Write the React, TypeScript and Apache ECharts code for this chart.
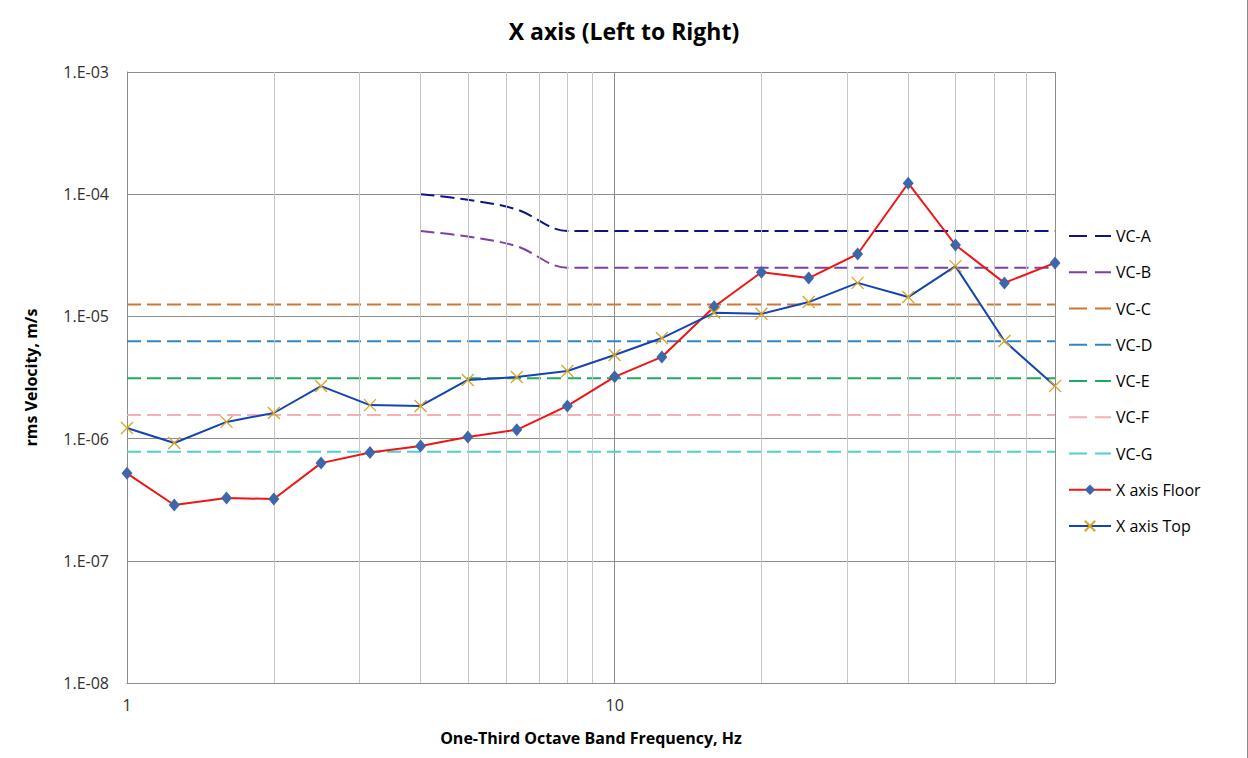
import React, { useEffect, useRef } from "react";
import * as echarts from "echarts";

const freqs = [1, 1.25, 1.6, 2, 2.5, 3.15, 4, 5, 6.3, 8, 10, 12.5, 16, 20, 25, 31.5, 40, 50, 63, 80];
const floorVals = [5.2e-7, 2.86e-7, 3.27e-7, 3.2e-7, 6.3e-7, 7.7e-7, 8.7e-7, 1.03e-6, 1.18e-6, 1.85e-6, 3.2e-6, 4.66e-6, 1.2e-5, 2.3e-5, 2.06e-5, 3.24e-5, 1.23e-4, 3.84e-5, 1.88e-5, 2.74e-5];
const topVals = [1.22e-6, 9.2e-7, 1.37e-6, 1.62e-6, 2.69e-6, 1.88e-6, 1.85e-6, 3.02e-6, 3.19e-6, 3.57e-6, 4.83e-6, 6.65e-6, 1.07e-5, 1.05e-5, 1.31e-5, 1.88e-5, 1.44e-5, 2.58e-5, 6.29e-6, 2.69e-6];
const vcFreqs = [4, 5, 6.3, 8, 10, 12.5, 16, 20, 25, 31.5, 40, 50, 63, 80];
const vcA = [1e-4, 9.0e-5, 7.5e-5, 5e-5, 5e-5, 5e-5, 5e-5, 5e-5, 5e-5, 5e-5, 5e-5, 5e-5, 5e-5, 5e-5];
const vcB = [5e-5, 4.5e-5, 3.75e-5, 2.5e-5, 2.5e-5, 2.5e-5, 2.5e-5, 2.5e-5, 2.5e-5, 2.5e-5, 2.5e-5, 2.5e-5, 2.5e-5, 2.5e-5];
const vcLevels = [1.25e-5, 6.25e-6, 3.125e-6, 1.5625e-6, 7.8125e-7];
const vcFlatNames = ["VC-C", "VC-D", "VC-E", "VC-F", "VC-G"];
const vcNames = ["VC-A", "VC-B", ...vcFlatNames];
const minorTicks = [2, 3, 4, 5, 6, 7, 8, 9, 20, 30, 40, 50, 60, 70];

const FONT = "'Open Sans', 'Noto Sans', sans-serif";

export default function App() {
  const ref = useRef<HTMLDivElement>(null);
  useEffect(() => {
    document.body.style.margin = "0";
    const chart = echarts.init(ref.current!, null, { renderer: "svg" });
    const dash = [14, 6];
    const vcSeries = (name: string, color: string, data: number[][], smooth: boolean) => ({
      name,
      type: "line",
      data,
      smooth: smooth ? 0.35 : false,
      symbol: "none",
      z: 3,
      lineStyle: { color, width: 2, type: dash },
      itemStyle: { color },
    });
    const flatColors = ["#CC7733", "#2E86C8", "#1FAA60", "#F5B0B5", "#4FD0CF"];
    const series: any[] = [
      {
        name: "minor",
        type: "line",
        data: [[1, 1e-8]],
        symbol: "none",
        silent: true,
        z: 1,
        lineStyle: { width: 0 },
        markLine: {
          silent: true,
          symbol: ["none", "none"],
          label: { show: false },
          lineStyle: { color: "#C6C6C6", type: "solid", width: 1 },
          data: minorTicks.map((v) => ({ xAxis: v })),
        },
      },
      vcSeries("VC-A", "#0F1580", vcFreqs.map((f, i) => [f, vcA[i]]), true),
      vcSeries("VC-B", "#7B40A8", vcFreqs.map((f, i) => [f, vcB[i]]), true),
      ...vcLevels.map((lv, k) => vcSeries(vcFlatNames[k], flatColors[k], freqs.map((f) => [f, lv]), false)),
      {
        name: "X axis Floor",
        type: "line",
        data: freqs.map((f, i) => [f, floorVals[i]]),
        symbol: "diamond",
        symbolSize: [11, 13],
        z: 5,
        lineStyle: { color: "#EE1515", width: 2 },
        itemStyle: { color: "#3E66AA" },
      },
      {
        name: "X axis Top",
        type: "line",
        data: freqs.map((f, i) => [f, topVals[i]]),
        symbol: "path://M0,0L10,10M10,0L0,10",
        symbolSize: 12,
        z: 6,
        lineStyle: { color: "#1444B2", width: 2 },
        itemStyle: { color: "#D9A521", borderColor: "#D9A521", borderWidth: 1.3 },
      },
    ];
    const legendData: any[] = [
      ...vcNames.map((n) => ({
        name: n,
        itemStyle: { opacity: 0, color: "transparent", borderWidth: 0 },
      })),
      { name: "X axis Floor", lineStyle: { type: "solid" } },
      { name: "X axis Top", lineStyle: { type: "solid" } },
    ];
    chart.setOption({
      animation: false,
      backgroundColor: "#ffffff",
      textStyle: { fontFamily: FONT },
      title: {
        text: "X axis (Left to Right)",
        left: "center",
        top: 14,
        textStyle: { fontFamily: FONT, fontSize: 23, fontWeight: "bold", color: "#000000" },
      },
      legend: {
        orient: "vertical",
        left: 1068,
        top: 228,
        padding: 0,
        itemWidth: 42,
        itemHeight: 13,
        itemGap: 20.25,
        lineStyle: { type: [18, 8] },
        data: legendData,
        textStyle: { fontFamily: FONT, fontSize: 16, color: "#000000", lineHeight: 16 },
      },
      grid: { left: 127, top: 72, right: 193, bottom: 75, containLabel: false },
      xAxis: {
        type: "log",
        logBase: 10,
        min: 1,
        max: 80,
        name: "One-Third Octave Band Frequency, Hz",
        nameLocation: "middle",
        nameGap: 47,
        nameTextStyle: { fontFamily: FONT, fontSize: 16, fontWeight: "bold", color: "#000000" },
        axisLine: { show: true, lineStyle: { color: "#8C8C8C", width: 1 } },
        axisTick: { show: false },
        axisLabel: {
          margin: 14,
          fontFamily: FONT,
          fontSize: 16,
          color: "#303030",
          showMaxLabel: false,
          formatter: (v: number) => {
            const e = Math.log10(v);
            if (Math.abs(e - Math.round(e)) > 1e-6) return "";
            return String(Math.round(v));
          },
        },
        splitLine: { show: true, lineStyle: { color: "#8C8C8C", width: 1 } },
      },
      yAxis: {
        type: "log",
        logBase: 10,
        min: 1e-8,
        max: 1e-3,
        name: "rms Velocity, m/s",
        nameLocation: "middle",
        nameGap: 88,
        nameTextStyle: { fontFamily: FONT, fontSize: 16, fontWeight: "bold", color: "#000000" },
        axisLine: { show: true, lineStyle: { color: "#8C8C8C", width: 1 } },
        axisTick: { show: false },
        axisLabel: {
          margin: 18,
          fontFamily: FONT,
          fontSize: 16,
          color: "#303030",
          formatter: (v: number) => {
            const e = Math.round(Math.log10(v));
            return "1.E" + (e < 0 ? "-" : "+") + String(Math.abs(e)).padStart(2, "0");
          },
        },
        splitLine: { show: true, lineStyle: { color: "#8C8C8C", width: 1 } },
      },
      graphic: [
        {
          type: "line",
          shape: { x1: 1247.5, y1: 0, x2: 1247.5, y2: 758 },
          style: { stroke: "#8C8C8C", lineWidth: 1 },
          silent: true,
        },
      ],
      series,
    });
    return () => chart.dispose();
  }, []);
  return <div ref={ref} style={{ width: 1248, height: 758 }} />;
}
